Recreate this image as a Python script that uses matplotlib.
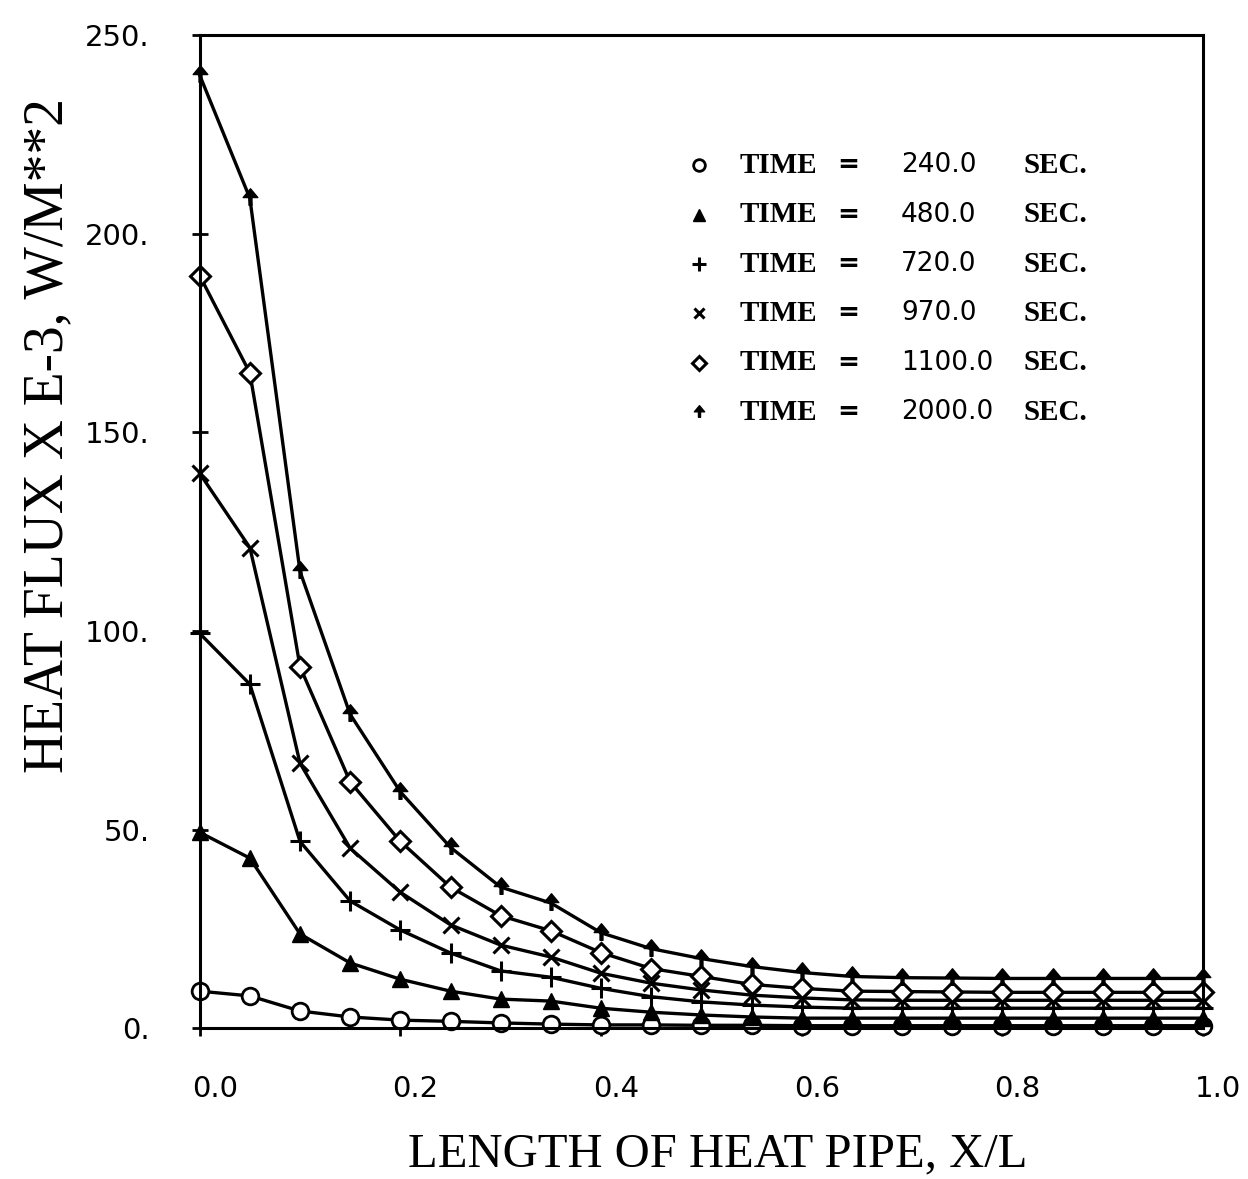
import numpy as np
import matplotlib
matplotlib.use("Agg")
import matplotlib.pyplot as plt
from matplotlib.path import Path
from matplotlib.transforms import ScaledTranslation

# x/L stations
x_pos = np.round(np.arange(0, 1.0001, 0.05), 2)

t240 = [9.3, 8.1, 4.3, 2.8, 2.0, 1.7, 1.3, 1.0, 0.8, 0.8, 0.7, 0.7, 0.6, 0.6, 0.6, 0.6, 0.6, 0.6, 0.6, 0.6, 0.6]
t480 = [49.3, 42.8, 23.7, 16.4, 12.3, 9.3, 7.3, 6.8, 5.0, 4.0, 3.3, 2.8, 2.5, 2.5, 2.5, 2.5, 2.5, 2.5, 2.5, 2.5, 2.5]
t720 = [99.4, 86.6, 47.0, 32.0, 24.7, 18.9, 14.4, 12.8, 10.0, 7.9, 6.6, 5.8, 5.3, 5.0, 5.0, 5.0, 5.0, 5.0, 5.0, 5.0, 5.0]
t970 = [139.7, 121.0, 66.7, 45.3, 34.2, 26.0, 20.9, 17.9, 13.8, 11.3, 9.6, 8.3, 7.6, 7.1, 7.0, 7.0, 7.0, 7.0, 7.0, 7.0, 7.0]
t1100 = [189.5, 165.0, 91.0, 62.0, 47.0, 35.5, 28.3, 24.5, 19.0, 15.0, 13.0, 11.0, 10.0, 9.3, 9.2, 9.1, 9.0, 9.0, 9.0, 9.0, 9.0]
t2000 = [240.0, 209.0, 115.0, 79.0, 59.5, 45.5, 35.5, 31.5, 24.0, 20.0, 17.5, 15.5, 14.0, 13.0, 12.7, 12.6, 12.5, 12.5, 12.5, 12.5, 12.5]

times = ["240.0", "480.0", "720.0", "970.0", "1100.0", "2000.0"]
series = [t240, t480, t720, t970, t1100, t2000]

# up-arrow marker for the last series
arrow = Path([(0, 1), (-0.75, 0.1), (-0.15, 0.1), (-0.15, -0.7), (0.15, -0.7),
              (0.15, 0.1), (0.75, 0.1), (0, 1)], closed=True)
styles = [
    dict(marker="o", mfc="white", ms=12, mew=2),
    dict(marker="^", mfc="black", ms=12, mew=1),
    dict(marker="+", ms=15, mew=2.2),
    dict(marker="x", ms=11, mew=2.2),
    dict(marker="D", mfc="white", ms=10, mew=2.2),
    dict(marker=arrow, mfc="black", ms=14, mew=1),
]

fig = plt.figure(figsize=(12.48, 11.79), dpi=100)
ax = fig.add_axes([0.160, 0.128, 0.804, 0.842])

for vals, st in zip(series, styles):
    ax.plot(x_pos, vals, color="black", lw=2.4, mec="black", clip_on=False, **st)

ax.set_xlim(0, 1.0)
ax.set_ylim(0, 250)
ax.set_xticks([0.0, 0.2, 0.4, 0.6, 0.8, 1.0])
ax.set_xticklabels(["0.0", "0.2", "0.4", "0.6", "0.8", "1.0"])
ax.set_yticks([0, 50, 100, 150, 200, 250])
ax.set_yticklabels(["0.", "50.", "100.", "150.", "200.", "250."])
ax.tick_params(direction="inout", length=12, width=2, labelsize=21)
ax.tick_params(axis="y", pad=30)
ax.tick_params(axis="x", pad=28)
for lbl in ax.get_xticklabels():
    lbl.set_transform(lbl.get_transform() + ScaledTranslation(0.15, 0, fig.dpi_scale_trans))
for s in ax.spines.values():
    s.set_linewidth(2.2)

ax.set_xlabel("LENGTH OF HEAT PIPE, X/L", family="Liberation Serif", fontsize=35,
              va="center", ha="center")
ax.set_ylabel("HEAT FLUX X E-3, W/M**2", family="Liberation Serif", fontsize=40,
              va="center", ha="center")
ax.xaxis.set_label_coords(0.516, -0.127)
ax.yaxis.set_label_coords(-0.151, 0.597)

# legend drawn by hand
for i, (t, st) in enumerate(zip(times, styles)):
    yy = 0.869 - i * 0.0497
    kw = dict(st)
    kw["ms"] = kw["ms"] * 0.7
    ax.plot([0.4975], [yy], transform=ax.transAxes, color="black", ls="none",
            mec="black", clip_on=False, **kw)
    ax.text(0.538, yy, "TIME", transform=ax.transAxes, va="center", ha="left",
            family="Liberation Serif", fontweight="bold", fontsize=21)
    ax.text(0.646, yy, "=", transform=ax.transAxes, va="center", ha="center",
            fontsize=19, fontweight="bold")
    ax.text(0.699, yy, t, transform=ax.transAxes, va="center", ha="left", fontsize=19)
    ax.text(0.821, yy, "SEC.", transform=ax.transAxes, va="center", ha="left",
            family="Liberation Serif", fontweight="bold", fontsize=21)

plt.savefig("out.png", dpi=100)
